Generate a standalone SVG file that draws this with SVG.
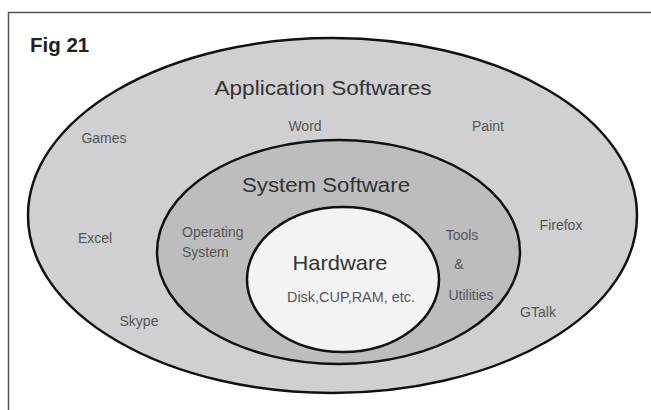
<svg xmlns="http://www.w3.org/2000/svg" width="651" height="410" viewBox="0 0 651 410">
<style>
.ring{stroke:#111;stroke-width:2.5}
.title{font-family:"Liberation Sans",Arial,sans-serif;fill:#333}
.lbl{font-family:"Liberation Sans",Arial,sans-serif;fill:#555;font-size:14px}
</style>
<rect x="0" y="0" width="651" height="410" fill="#fff"/>
<path d="M8.5 410 V12.5 H651" fill="none" stroke="#555" stroke-width="1.5"/>
<text x="30" y="52" font-family="Liberation Sans,Arial,sans-serif" font-weight="bold" font-size="20.5" fill="#222">Fig 21</text>
<g id="application">
<ellipse class="ring" cx="332.5" cy="215.5" rx="304.5" ry="177.5" fill="#d0d0d2"/>
<text class="title" x="323" y="95" font-size="20" text-anchor="middle" textLength="217" lengthAdjust="spacingAndGlyphs">Application Softwares</text>
<text class="lbl" x="305" y="131" text-anchor="middle">Word</text>
<text class="lbl" x="488" y="131" text-anchor="middle">Paint</text>
<text class="lbl" x="104" y="143" text-anchor="middle">Games</text>
<text class="lbl" x="95" y="243" text-anchor="middle">Excel</text>
<text class="lbl" x="561" y="230" text-anchor="middle">Firefox</text>
<text class="lbl" x="139" y="326" text-anchor="middle">Skype</text>
<text class="lbl" x="538" y="317" text-anchor="middle">GTalk</text>
</g>
<g id="system">
<ellipse class="ring" cx="338.5" cy="252" rx="181.5" ry="112" fill="#bdbdbf"/>
<text class="title" x="326" y="192" font-size="20" text-anchor="middle" textLength="168" lengthAdjust="spacingAndGlyphs">System Software</text>
<text class="lbl" x="182" y="237">Operating</text>
<text class="lbl" x="182" y="257">System</text>
<text class="lbl" x="462" y="240" text-anchor="middle">Tools</text>
<text class="lbl" x="459" y="269" text-anchor="middle">&amp;</text>
<text class="lbl" x="471" y="300" text-anchor="middle">Utilities</text>
</g>
<g id="hardware">
<ellipse class="ring" cx="343" cy="279.5" rx="96" ry="72.5" fill="#f3f3f5"/>
<text class="title" x="340" y="270" font-size="21" text-anchor="middle" textLength="95" lengthAdjust="spacingAndGlyphs">Hardware</text>
<text class="lbl" x="351" y="302" text-anchor="middle" textLength="128" lengthAdjust="spacingAndGlyphs">Disk,CUP,RAM, etc.</text>
</g>
<g id="connectors"/>
</svg>
